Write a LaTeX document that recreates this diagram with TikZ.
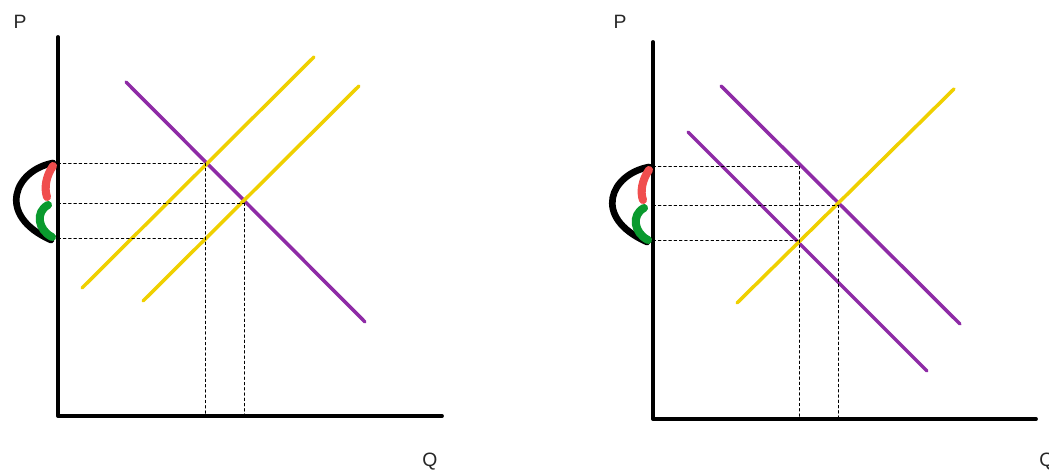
\documentclass[tikz,border=0pt]{standalone}
\usepackage{fontspec}
\setmainfont{Liberation Sans}
\usetikzlibrary{arrows.meta}
\definecolor{purple}{HTML}{8E2BA6}
\definecolor{yellow}{HTML}{EFD000}
\definecolor{red}{HTML}{F04E4E}
\definecolor{green}{HTML}{0A9A2E}
\tikzset{
  every picture/.style={line join=round, line cap=round},
  axis/.style={line width=2.2pt},
  curve/.style={line width=2pt},
  guide/.style={black, line width=0.4pt, dash pattern=on 1.5pt off 1.5pt},
  brush/.style={line width=3.8pt},
  blob/.style={line width=4.6pt},
  lbl/.style={font=\fontsize{11}{13}\selectfont, text=black!85},
}

\begin{document}
\begin{tikzpicture}[x=0.02cm,y=-0.02cm]
\useasboundingbox (0,0) rectangle (1049,472);
% left diagram: supply shifts
\draw[axis](58,37)--(58,416)--(442,416);
\node[lbl] (pL) at (20,22) {P};
\node[lbl] (qL) at (430,462) {Q};
\draw[curve,purple](126,82)--(365,322);
\draw[curve,yellow](82,288)--(314,57);
\draw[curve,yellow](143,301)--(359,86);
\foreach \y/\x in {163/205,203/244,238/205}
  \draw[guide](58,\y)--(\x,\y);
\draw[guide](205,163)--(205,416);
\draw[guide](244,203)--(244,416);
\draw[brush](53,163) .. controls (15,170) and (-5,215) .. (51,240);
\draw[blob,red](53,166) .. controls (46,176) and (44,188) .. (47,197);
\draw[blob,green](48,205) .. controls (35,212) and (38,230) .. (52,237);
% right diagram: demand shifts
\draw[axis](653,42)--(653,419)--(1036,419);
\node[lbl] (pR) at (620,22) {P};
\node[lbl] (qR) at (1047,462) {Q};
\draw[curve,purple](721,86)--(960,324);
\draw[curve,purple](688,132)--(927,371);
\draw[curve,yellow](737,303)--(954,89);
\foreach \y/\x in {166/799,205/838,240/799}
  \draw[guide](653,\y)--(\x,\y);
\draw[guide](799,166)--(799,419);
\draw[guide](838,205)--(838,419);
\draw[brush](649,167) .. controls (611,174) and (591,217) .. (647,242);
\draw[blob,red](649,170) .. controls (642,180) and (640,192) .. (643,200);
\draw[blob,green](644,208) .. controls (631,215) and (634,233) .. (648,240);
\end{tikzpicture}
\end{document}
